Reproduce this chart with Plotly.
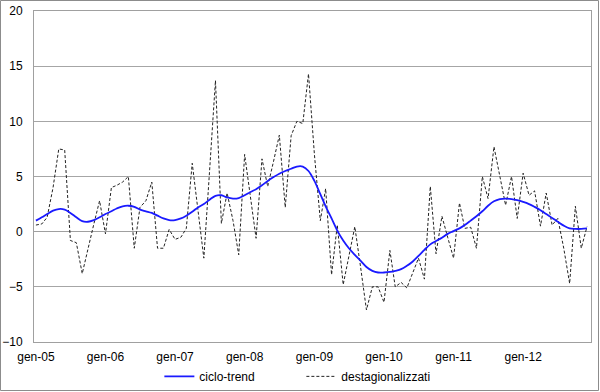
import pandas as pd
import plotly.graph_objects as go

months = pd.date_range("2005-01-01", "2012-12-01", freq="MS").strftime("%Y-%m-%d").tolist()

ciclo_trend = [
    1.0, 1.3, 1.6, 1.9, 2.05, 2.0, 1.7, 1.3, 0.95, 0.9, 1.05, 1.3,
    1.6, 1.85, 2.1, 2.3, 2.35, 2.25, 2.0, 1.85, 1.7, 1.45, 1.2, 1.05,
    1.05, 1.2, 1.45, 1.8, 2.2, 2.5, 2.9, 3.25, 3.3, 3.1, 3.0, 3.05,
    3.3, 3.6, 3.85, 4.2, 4.6, 4.95, 5.25, 5.5, 5.7, 5.9, 5.9, 5.5,
    4.6, 3.4, 2.3, 1.2, 0.1, -0.8, -1.5, -2.1, -2.65, -3.2, -3.55, -3.7,
    -3.7, -3.65, -3.55, -3.4, -3.1, -2.7, -2.2, -1.65, -1.15, -0.85, -0.55, -0.2,
    0.05, 0.3, 0.6, 1.0, 1.4, 1.85, 2.35, 2.75, 2.95, 3.0, 2.95, 2.85,
    2.7, 2.5, 2.25, 1.95, 1.6, 1.25, 0.9, 0.55, 0.3, 0.25, 0.25, 0.3,
]

destagionalizzati = [
    0.6, 0.7, 1.3, 4.0, 7.5, 7.4, -0.8, -1.0, -3.8, -1.5, 0.7, 2.8,
    -0.2, 4.0, 4.2, 4.5, 5.0, -1.5, 2.2, 2.8, 4.5, -1.5, -1.5, 0.2,
    -0.7, -0.5, 0.3, 6.2, 2.0, -2.4, 5.5, 13.7, 0.75, 3.5, 1.0, -2.1,
    7.0, 3.2, -0.6, 6.6, 4.1, 6.4, 8.75, 2.2, 8.7, 10.0, 9.8, 14.3,
    7.0, 1.0, 3.9, -3.9, 0.6, -4.8, -2.2, 0.45, -3.3, -7.1, -5.0, -5.0,
    -6.4, -1.7, -5.0, -4.6, -5.1, -3.8, -2.4, -4.3, 4.1, -2.0, 1.4, -0.5,
    -2.4, 2.6, 0.3, 0.4, -1.5, 5.0, 3.0, 7.7, 5.0, 2.4, 5.0, 1.2,
    5.3, 3.3, 3.7, 0.5, 3.5, 0.6, 1.2, -1.5, -4.7, 2.3, -1.5, 0.45,
]

tick_dates = [f"{y}-01-01" for y in range(2005, 2013)]
tick_labels = ["gen-05", "gen-06", "gen-07", "gen-08", "gen-09", "gen-10", "gen-11", "gen-12"]

fig = go.Figure()
fig.add_trace(go.Scatter(
    x=months, y=destagionalizzati, mode="lines", name="destagionalizzati",
    line=dict(color="#222222", width=1, dash="3px,2px"), legendrank=2,
))
fig.add_trace(go.Scatter(
    x=months, y=ciclo_trend, mode="lines", name="ciclo-trend",
    line=dict(color="#1a1aff", width=1.8, shape="spline", smoothing=1.0), legendrank=1,
))

W, H = 600, 392
ml, mr, mt, mb = 34, 9, 11, 50
pw, ph = W - ml - mr, H - mt - mb

fig.update_layout(
    width=W, height=H,
    margin=dict(l=ml, r=mr, t=mt, b=mb, autoexpand=False),
    paper_bgcolor="white", plot_bgcolor="white",
    font=dict(family="Liberation Sans, Arial, sans-serif", size=12, color="black"),
    showlegend=True,
    legend=dict(orientation="h", x=0.48, xanchor="center", y=-0.06, yanchor="top",
                entrywidth=97, font=dict(size=12), bgcolor="rgba(0,0,0,0)"),
    xaxis=dict(
        type="date", range=["2004-12-22", "2012-12-22"], automargin=False,
        tickvals=tick_dates, ticktext=tick_labels, showgrid=False,
        showline=True, linecolor="#a0a0a0", linewidth=1, mirror=True,
        ticks="", ticklabelstandoff=4, tickfont=dict(size=12), zeroline=False,
    ),
    yaxis=dict(
        range=[-10, 20], dtick=5, showgrid=True, gridcolor="#a6a6a6", gridwidth=1,
        showline=True, linecolor="#a0a0a0", linewidth=1, mirror=True, automargin=False,
        zeroline=True, zerolinecolor="#a0a0a0", zerolinewidth=1,
        ticks="", ticklabelstandoff=8, tickfont=dict(size=12),
    ),
    shapes=[dict(
        type="rect", xref="paper", yref="paper",
        x0=(0.5 - ml) / pw, x1=(W - 1.5 - ml) / pw,
        y0=-(H - 1.5 - mt - ph) / ph, y1=1 + (mt - 0.5) / ph,
        line=dict(color="#8c8c8c", width=1), layer="below",
    )],
)

fig.write_html("out.html", config={"displayModeBar": False},
               post_script="document.body.style.margin='0';")
